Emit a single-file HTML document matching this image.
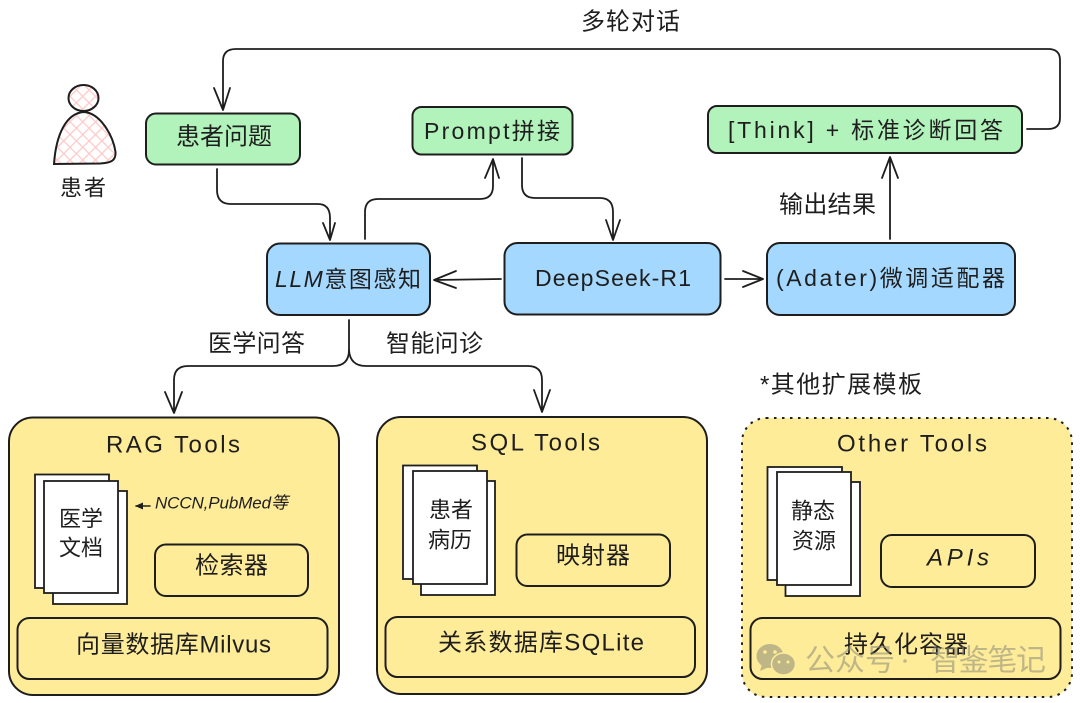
<!DOCTYPE html>
<html lang="zh"><head><meta charset="utf-8"><title>Diagram</title>
<style>
html,body{margin:0;padding:0;background:#fff}
svg{display:block}
text{font-family:"Liberation Sans","WenQuanYi Zen Hei","Noto Sans CJK SC",sans-serif;fill:#1e1e1e;text-anchor:start;dominant-baseline:central}
.b{stroke:#1e1e1e;stroke-width:2}
.c{fill:none;stroke:#1e1e1e;stroke-width:1.8;stroke-linecap:round;stroke-linejoin:round}
.p{fill:#fff;stroke:#1e1e1e;stroke-width:1.8}
.w{fill:#8a8a7a;opacity:.55}
</style></head><body>
<svg xmlns="http://www.w3.org/2000/svg" width="1080" height="703" viewBox="0 0 1080 703">
<defs>
<pattern id="h" width="9" height="9" patternUnits="userSpaceOnUse" patternTransform="rotate(45)">
<path d="M0 0H9M0 0V9" stroke="#ffc9c9" stroke-width="2.6" fill="none"/>
</pattern>
</defs>
<rect width="1080" height="703" fill="#fff"/>

<!-- person -->
<ellipse cx="83.5" cy="98" rx="15" ry="13" fill="#fff"/>
<ellipse cx="83.5" cy="98" rx="15" ry="13" fill="url(#h)" stroke="#1e1e1e" stroke-width="2"/>
<path d="M54 164C56 135 66 113 84 112C100 113 113 135 115.500 152C116 160 112 163 100 163.500Z" fill="url(#h)" stroke="#1e1e1e" stroke-width="2"/>
<text x="60" y="188" font-size="22" textLength="46">患者</text>

<!-- green boxes -->
<rect x="146" y="113.500" width="154" height="51" rx="10" fill="#b2f2bb" class="b"/>
<rect x="412.500" y="107" width="160" height="47.500" rx="9" fill="#b2f2bb" class="b"/>
<rect x="708" y="106" width="314" height="47" rx="9" fill="#b2f2bb" class="b"/>
<text x="176" y="137" font-size="24" textLength="96">患者问题</text>
<text x="424" y="131" font-size="23" textLength="136">Prompt拼接</text>
<text x="728" y="130" font-size="23" textLength="275">[Think] + 标准诊断回答</text>

<!-- blue boxes -->
<rect x="267" y="243.500" width="163" height="71.500" rx="13" fill="#a5d8ff" class="b"/>
<rect x="504.500" y="243" width="216" height="71.500" rx="13" fill="#a5d8ff" class="b"/>
<rect x="767" y="243" width="248" height="72" rx="13" fill="#a5d8ff" class="b"/>
<text x="275" y="279" font-size="23" textLength="146"><tspan font-style="italic">LLM</tspan>意图感知</text>
<text x="535" y="278" font-size="23" textLength="156">DeepSeek-R1</text>
<text x="776" y="278" font-size="23" textLength="229">(Adater)微调适配器</text>

<!-- connectors -->
<path class="c" d="M1027 129H1048Q1060 129 1060 118V60Q1060 49 1048 49H236Q223 49 223 61V109M214 88L223 110L230 88"/>
<path class="c" d="M217 169V190Q217 204 231 204H318Q330 204 330 218V239M323 223L330 240L335 223"/>
<path class="c" d="M365 239V212Q365 199 378 199H480Q493 199 493 186V160M485 178L493 159L499 178"/>
<path class="c" d="M522 158V185Q522 198 535 198H600Q613 198 613 212V239M606 220L613 240L620 220"/>
<path class="c" d="M501 279L435 280M456 271L434 280L456 288"/>
<path class="c" d="M725 279H762M743 271L763 279L743 287"/>
<path class="c" d="M890 239V158M882 178L890 157L898 178"/>
<path class="c" d="M349 320V350Q349 366 333 366H188Q174 366 174 380V412M165 392L174 413L182 392"/>
<path class="c" d="M349 350Q350 366 366 366H528Q542 366 542 380V411M534 390L542 412L550 390"/>

<text x="581" y="22" font-size="24" textLength="99">多轮对话</text>
<text x="208" y="344" font-size="24" textLength="97">医学问答</text>
<text x="386" y="344" font-size="24" textLength="97">智能问诊</text>
<text x="779" y="205" font-size="24" textLength="97">输出结果</text>
<text x="760" y="385" font-size="24" textLength="162">*其他扩展模板</text>

<!-- RAG panel -->
<rect x="9" y="417.500" width="330" height="277.500" rx="24" fill="#ffec99" class="b"/>
<text x="106" y="445" font-size="24" textLength="134">RAG Tools</text>
<rect x="35" y="474.500" width="74" height="113.500" class="p"/>
<rect x="53" y="491" width="74" height="113" class="p"/>
<rect x="44" y="481" width="74" height="112" class="p"/>
<text x="59" y="519" font-size="22" textLength="44">医学</text>
<text x="59" y="548" font-size="22" textLength="44">文档</text>
<path class="c" d="M150 506H136" style="stroke-width:1.5"/><path d="M135 506L143 502.500V509.500Z" fill="#1e1e1e"/>
<text x="155" y="503" font-size="17" textLength="133" font-style="italic">NCCN,PubMed等</text>
<rect x="155" y="544.500" width="153" height="51.500" rx="11" fill="none" class="b"/>
<text x="195" y="566" font-size="24" textLength="73">检索器</text>
<rect x="17.500" y="618" width="310" height="61" rx="12" fill="none" class="b"/>
<text x="76" y="645" font-size="24" textLength="195">向量数据库Milvus</text>

<!-- SQL panel -->
<rect x="377" y="417" width="330" height="277" rx="24" fill="#ffec99" class="b"/>
<text x="471" y="443" font-size="24" textLength="129">SQL Tools</text>
<rect x="403" y="465.500" width="74" height="113.500" class="p"/>
<rect x="421" y="481" width="74" height="114" class="p"/>
<rect x="413" y="471" width="74" height="113" class="p"/>
<text x="429" y="510" font-size="22" textLength="44">患者</text>
<text x="428" y="540" font-size="22" textLength="44">病历</text>
<rect x="516.500" y="534.500" width="153.500" height="51.500" rx="11" fill="none" class="b"/>
<text x="556" y="556" font-size="24" textLength="74">映射器</text>
<rect x="385.500" y="617" width="309.500" height="60" rx="12" fill="none" class="b"/>
<text x="438" y="643" font-size="24" textLength="206">关系数据库SQLite</text>

<!-- Other panel -->
<rect x="742" y="418" width="330" height="279" rx="24" fill="#ffec99" stroke="#1e1e1e" stroke-width="2" stroke-dasharray="2.500 5.500"/>
<text x="837" y="444" font-size="24" textLength="150">Other Tools</text>
<rect x="767.500" y="467" width="74.500" height="113" class="p"/>
<rect x="785.500" y="482" width="74.500" height="114" class="p"/>
<rect x="777" y="472" width="74" height="113" class="p"/>
<text x="791" y="511" font-size="22" textLength="44">静态</text>
<text x="792" y="541" font-size="22" textLength="44">资源</text>
<rect x="881" y="535" width="154" height="52" rx="11" fill="none" class="b"/>
<text x="927" y="558" font-size="24" textLength="62" font-style="italic">APIs</text>
<rect x="750.500" y="618" width="310" height="61" rx="12" fill="none" class="b"/>
<text x="844" y="645" font-size="24" textLength="124">持久化容器</text>

<!-- watermark -->
<g opacity=".55" fill="#8a8a7a">
<ellipse cx="770" cy="656" rx="13.500" ry="12"/>
<path d="M762 664L760 671L769 667Z"/>
<ellipse cx="783.500" cy="664" rx="12" ry="11" stroke="#ffec99" stroke-width="1.500"/>
</g>
<g fill="#ffec99">
<circle cx="765" cy="652" r="1.800"/><circle cx="775" cy="652" r="1.800"/>
<circle cx="779" cy="662" r="1.500"/><circle cx="788" cy="662" r="1.500"/>
</g>
<text x="805" y="661" font-size="30" textLength="90" class="w">公众号</text>
<circle cx="905" cy="661" r="1.800" class="w"/>
<text x="930" y="661" font-size="30" textLength="116" class="w">智鉴笔记</text>
</svg>
</body></html>
